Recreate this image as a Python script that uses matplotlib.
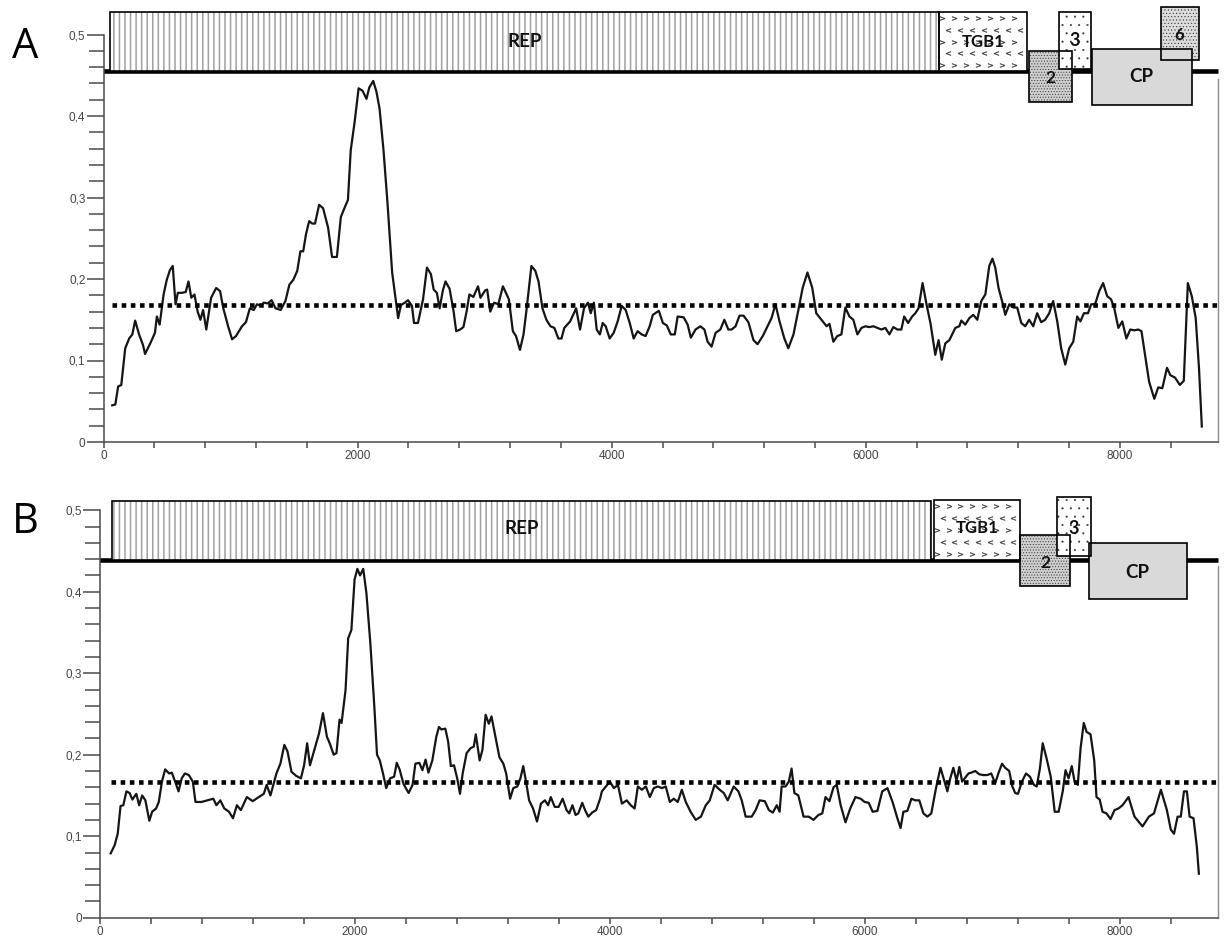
import numpy as np
import matplotlib
matplotlib.use("Agg")
import matplotlib.pyplot as plt
from matplotlib.patches import Rectangle
from matplotlib.ticker import FixedLocator, FuncFormatter

# ---------------- data ----------------
a_pos = [68, 93, 115, 140, 171, 202, 227, 249, 280, 311,
         327, 374, 405, 420, 442, 473, 498, 523, 545, 567,
         585, 616, 647, 669, 691, 716, 741, 763, 784, 809,
         847, 887, 918, 943, 981, 1012, 1043, 1090, 1121, 1152,
         1183, 1208, 1239, 1261, 1292, 1323, 1354, 1395, 1432, 1463,
         1494, 1525, 1550, 1572, 1594, 1619, 1643, 1665, 1697, 1728,
         1768, 1799, 1837, 1868, 1899, 1924, 1946, 1977, 2008, 2039,
         2070, 2092, 2123, 2148, 2173, 2204, 2235, 2272, 2319, 2341,
         2372, 2397, 2428, 2444, 2475, 2515, 2546, 2577, 2599, 2624,
         2646, 2671, 2692, 2724, 2755, 2776, 2807, 2833, 2858, 2880,
         2911, 2948, 2967, 3004, 3020, 3044, 3075, 3107, 3144, 3191,
         3222, 3247, 3278, 3306, 3331, 3368, 3399, 3424, 3455, 3486,
         3518, 3549, 3580, 3605, 3627, 3673, 3720, 3751, 3782, 3813,
         3835, 3860, 3882, 3907, 3929,
         3953, 3984, 4016, 4047, 4079, 4110, 4142, 4173, 4204, 4236,
         4267, 4299, 4324, 4371, 4403, 4434, 4465, 4497, 4519, 4566,
         4598, 4623, 4660, 4698, 4730, 4755, 4786, 4818, 4855, 4887,
         4918, 4944, 4975, 5006, 5038, 5076, 5116, 5148, 5189, 5227,
         5258, 5289, 5321, 5359, 5390, 5431, 5472, 5503, 5541, 5579,
         5610, 5651, 5692, 5714, 5745, 5776, 5808, 5839, 5871, 5902,
         5934, 5966, 5997, 6028, 6060, 6091, 6123, 6154, 6186, 6217,
         6249, 6280, 6302, 6333, 6365, 6390, 6415, 6447, 6478, 6510,
         6547, 6573, 6598, 6626, 6658, 6705, 6736, 6752, 6783, 6815,
         6846, 6878, 6909, 6941, 6972, 6997, 7019, 7045, 7076, 7098,
         7130, 7161, 7192, 7224, 7255, 7286, 7318, 7349, 7381, 7412,
         7444, 7475, 7507, 7538, 7570, 7601, 7633, 7664, 7689, 7717,
         7749, 7774, 7805, 7837, 7868, 7900, 7931, 7956, 7988, 8019,
         8051, 8082, 8114, 8145, 8170, 8198, 8230, 8271, 8302, 8334,
         8371, 8397, 8434, 8472, 8503, 8535, 8566, 8597, 8623, 8645]
a_val = [0.045, 0.046, 0.068, 0.070, 0.115, 0.127, 0.132, 0.149, 0.132, 0.119,
         0.108, 0.123, 0.134, 0.154, 0.144, 0.181, 0.199, 0.211, 0.216, 0.169,
         0.183, 0.183, 0.184, 0.197, 0.177, 0.181, 0.160, 0.150, 0.162, 0.138,
         0.177, 0.189, 0.185, 0.164, 0.142, 0.126, 0.130, 0.142, 0.147, 0.164,
         0.162, 0.169, 0.167, 0.171, 0.170, 0.174, 0.164, 0.162, 0.173, 0.193,
         0.199, 0.210, 0.234, 0.234, 0.255, 0.271, 0.268, 0.268, 0.291, 0.287,
         0.263, 0.227, 0.227, 0.276, 0.288, 0.297, 0.358, 0.393, 0.434, 0.431,
         0.421, 0.435, 0.443, 0.430, 0.409, 0.358, 0.294, 0.208, 0.152, 0.168,
         0.171, 0.174, 0.167, 0.146, 0.146, 0.175, 0.214, 0.206, 0.187, 0.183,
         0.164, 0.186, 0.197, 0.188, 0.161, 0.136, 0.138, 0.141, 0.160, 0.181,
         0.178, 0.191, 0.177, 0.186, 0.187, 0.160, 0.171, 0.169, 0.191, 0.175,
         0.136, 0.130, 0.113, 0.132, 0.164, 0.216, 0.210, 0.197, 0.164, 0.150,
         0.142, 0.140, 0.127, 0.127, 0.140, 0.148, 0.164, 0.138, 0.164, 0.171,
         0.158, 0.171, 0.138, 0.132, 0.146,
         0.142, 0.127, 0.134, 0.148, 0.167, 0.162, 0.146, 0.127, 0.136, 0.132,
         0.130, 0.142, 0.156, 0.161, 0.146, 0.143, 0.132, 0.132, 0.154, 0.153,
         0.144, 0.128, 0.138, 0.142, 0.138, 0.123, 0.117, 0.134, 0.138, 0.150,
         0.138, 0.138, 0.142, 0.155, 0.155, 0.147, 0.125, 0.120, 0.130, 0.142,
         0.152, 0.169, 0.148, 0.127, 0.115, 0.132, 0.164, 0.189, 0.208, 0.189,
         0.158, 0.150, 0.142, 0.145, 0.123, 0.130, 0.132, 0.165, 0.154, 0.150,
         0.132, 0.140, 0.142, 0.141, 0.142, 0.140, 0.138, 0.140, 0.132, 0.141,
         0.138, 0.138, 0.154, 0.146, 0.154, 0.158, 0.164, 0.195, 0.169, 0.145,
         0.107, 0.125, 0.101, 0.121, 0.125, 0.140, 0.142, 0.149, 0.144, 0.152,
         0.156, 0.150, 0.173, 0.181, 0.216, 0.225, 0.214, 0.189, 0.171, 0.156,
         0.169, 0.165, 0.165, 0.146, 0.142, 0.150, 0.142, 0.158, 0.147, 0.150,
         0.158, 0.173, 0.148, 0.115, 0.095, 0.115, 0.123, 0.154, 0.148, 0.158,
         0.158, 0.169, 0.169, 0.185, 0.195, 0.179, 0.175, 0.164, 0.140, 0.148,
         0.127, 0.138, 0.137, 0.138, 0.136, 0.107, 0.074, 0.053, 0.067, 0.066,
         0.091, 0.082, 0.079, 0.070, 0.075, 0.195, 0.179, 0.152, 0.090, 0.019]

b_pos = [84, 115, 139, 161, 183, 207, 232, 254, 285, 307,
         331, 356, 387, 409, 440, 461, 486, 511, 542, 563,
         594, 616, 641, 666, 697, 728, 749, 796, 842, 889,
         913, 944, 975, 1012, 1043, 1074, 1105, 1152, 1198, 1245,
         1285, 1307, 1337, 1384, 1415, 1446, 1471, 1502, 1539, 1576,
         1601, 1625, 1647, 1678, 1718, 1749, 1780, 1802, 1833, 1855,
         1879, 1895, 1926, 1947, 1972, 1997, 2019, 2040, 2065, 2090,
         2121, 2152, 2173, 2195, 2220, 2245, 2276, 2307, 2328, 2350,
         2381, 2421, 2452, 2474, 2505, 2529, 2554, 2576, 2607, 2638,
         2659, 2678, 2709, 2731, 2752, 2777, 2802, 2824, 2845, 2876,
         2907, 2932, 2948, 2978, 3000, 3025, 3050, 3071, 3102, 3133,
         3164, 3186, 3217, 3242, 3273, 3298, 3320, 3342, 3366, 3397,
         3428, 3459, 3490, 3515, 3536, 3567, 3598, 3629, 3660, 3681,
         3706, 3731, 3752, 3783, 3805, 3830, 3861, 3892, 3923,
         3937, 3969, 4000, 4031, 4063, 4094, 4132, 4163, 4194, 4219,
         4250, 4282, 4313, 4344, 4376, 4407, 4438, 4470, 4501, 4532,
         4564, 4595, 4633, 4673, 4714, 4752, 4783, 4821, 4861, 4893,
         4924, 4971, 5008, 5034, 5065, 5112, 5143, 5174, 5215, 5247,
         5278, 5309, 5331, 5347, 5378, 5403, 5425, 5447, 5478, 5519,
         5560, 5597, 5635, 5666, 5691, 5722, 5754, 5779, 5810, 5848,
         5885, 5926, 5967, 5998, 6030, 6061, 6098, 6136, 6177, 6217,
         6255, 6280, 6302, 6333, 6365, 6396, 6427, 6459, 6490, 6521,
         6553, 6569, 6593, 6625, 6647, 6668, 6694, 6719, 6741, 6763,
         6788, 6813, 6835, 6866, 6897, 6929, 6960, 6991, 7022, 7047,
         7076, 7100, 7132, 7157, 7179, 7201, 7232, 7264, 7295, 7326,
         7348, 7373, 7395, 7426, 7458, 7489, 7520, 7552, 7574, 7598,
         7623, 7646, 7670, 7692, 7717, 7739, 7770, 7799, 7817, 7842,
         7864, 7895, 7927, 7958, 7989, 8021, 8068, 8115, 8178, 8228,
         8268, 8322, 8369, 8400, 8425, 8453, 8478, 8503, 8526, 8547,
         8578, 8604, 8620]
b_val = [0.079, 0.089, 0.103, 0.137, 0.138, 0.155, 0.153, 0.145, 0.152, 0.138,
         0.150, 0.144, 0.119, 0.130, 0.134, 0.142, 0.167, 0.182, 0.177, 0.178,
         0.165, 0.155, 0.171, 0.177, 0.175, 0.167, 0.142, 0.142, 0.144, 0.146,
         0.138, 0.144, 0.134, 0.130, 0.122, 0.138, 0.132, 0.148, 0.143, 0.148,
         0.152, 0.163, 0.150, 0.177, 0.189, 0.212, 0.204, 0.179, 0.174, 0.171,
         0.187, 0.214, 0.187, 0.204, 0.226, 0.251, 0.222, 0.214, 0.200, 0.202,
         0.243, 0.239, 0.279, 0.343, 0.353, 0.415, 0.428, 0.420, 0.428, 0.398,
         0.336, 0.259, 0.200, 0.193, 0.177, 0.159, 0.171, 0.173, 0.190, 0.182,
         0.164, 0.153, 0.163, 0.189, 0.190, 0.181, 0.194, 0.178, 0.193, 0.222,
         0.234, 0.231, 0.232, 0.216, 0.186, 0.187, 0.171, 0.152, 0.177, 0.202,
         0.208, 0.210, 0.225, 0.193, 0.206, 0.249, 0.238, 0.247, 0.222, 0.197,
         0.189, 0.177, 0.146, 0.159, 0.161, 0.171, 0.186, 0.167, 0.144, 0.134,
         0.118, 0.140, 0.144, 0.138, 0.148, 0.136, 0.136, 0.146, 0.132, 0.128,
         0.138, 0.126, 0.128, 0.141, 0.132, 0.124, 0.129, 0.132, 0.146,
         0.155, 0.161, 0.167, 0.159, 0.163, 0.140, 0.144, 0.138, 0.134, 0.161,
         0.157, 0.161, 0.148, 0.159, 0.161, 0.159, 0.161, 0.142, 0.146, 0.142,
         0.157, 0.142, 0.130, 0.120, 0.124, 0.138, 0.144, 0.163, 0.157, 0.153,
         0.144, 0.161, 0.155, 0.144, 0.124, 0.124, 0.132, 0.144, 0.143, 0.132,
         0.129, 0.138, 0.130, 0.161, 0.161, 0.167, 0.183, 0.153, 0.150, 0.124,
         0.124, 0.120, 0.126, 0.128, 0.148, 0.143, 0.160, 0.163, 0.138, 0.117,
         0.134, 0.148, 0.146, 0.142, 0.141, 0.130, 0.131, 0.155, 0.159, 0.142,
         0.122, 0.110, 0.130, 0.131, 0.146, 0.144, 0.144, 0.128, 0.124, 0.128,
         0.155, 0.167, 0.184, 0.167, 0.155, 0.170, 0.184, 0.168, 0.185, 0.167,
         0.172, 0.177, 0.178, 0.180, 0.176, 0.175, 0.175, 0.177, 0.165, 0.177,
         0.189, 0.184, 0.180, 0.161, 0.153, 0.152, 0.167, 0.177, 0.173, 0.163,
         0.161, 0.183, 0.214, 0.195, 0.173, 0.130, 0.130, 0.155, 0.181, 0.171,
         0.186, 0.166, 0.163, 0.208, 0.239, 0.228, 0.225, 0.193, 0.148, 0.145,
         0.130, 0.128, 0.121, 0.132, 0.134, 0.138, 0.148, 0.124, 0.112, 0.124,
         0.128, 0.157, 0.132, 0.108, 0.103, 0.124, 0.124, 0.155, 0.155, 0.124,
         0.122, 0.087, 0.054]

a_threshold = 0.168
b_threshold = 0.167

genome_length = 8770
x_tick_labels = ["0", "2000", "4000", "6000", "8000"]
y_tick_labels = ["0", "0,1", "0,2", "0,3", "0,4", "0,5"]

# genome maps (nt coordinates)
a_gene_names = ["REP", "TGB1", "2", "3", "6", "CP"]
a_gene_start = [51, 6574, 7282, 7518, 8320, 7778]
a_gene_end = [6574, 7266, 7620, 7770, 8619, 8565]
b_gene_names = ["REP", "TGB1", "2", "3", "CP"]
b_gene_start = [93, 6541, 7216, 7506, 7757]
b_gene_end = [6515, 7216, 7608, 7770, 8523]

# ---------------- layout / style ----------------
W, H = 1226, 939
YTOP = 0.54
a_levels = {"REP": (0.4556, 0.527), "TGB1": (0.4556, 0.527), "2": (0.417, 0.480),
            "3": (0.458, 0.527), "CP": (0.4135, 0.482), "6": (0.469, 0.534)}
a_text_y = {"REP": 0.491, "TGB1": 0.491, "2": 0.447, "3": 0.4925, "CP": 0.448, "6": 0.500}
b_levels = {"REP": (0.4387, 0.5115), "TGB1": (0.4387, 0.5125), "2": (0.407, 0.4696),
            "3": (0.4438, 0.5166), "CP": (0.391, 0.4597)}
b_text_y = {"REP": 0.4775, "TGB1": 0.478, "2": 0.435, "3": 0.478, "CP": 0.423}

gene_style = {
    "REP": dict(face="white", hatch="|||", hcolor="#a0a0a0", hlw=1.1, fs=13.5),
    "TGB1": dict(face="white", hatch=None, hcolor=None, hlw=1.0, fs=12),
    "2": dict(face="#d0d0d0", hatch="......", hcolor="#3a3a3a", hlw=0.45, fs=12.5),
    "3": dict(face="white", hatch="..", hcolor="#333333", hlw=0.25, fs=13),
    "CP": dict(face="#d9d9d9", hatch=None, hcolor=None, hlw=1.0, fs=13.5),
    "6": dict(face="#dcdcdc", hatch=".....", hcolor="#333333", hlw=0.4, fs=12),
}

plt.rcParams["hatch.linewidth"] = 1.0
TICK_FONT = "Liberation Sans"
LABEL_FONT = ["Lato", "DejaVu Sans"]

fig = plt.figure(figsize=(W / 100, H / 100), dpi=100)
fig.patch.set_facecolor("white")
axA = fig.add_axes([103.5 / W, 1 - 442.0 / H, 1114.2 / W, 440.1 / H])
axB = fig.add_axes([100.0 / W, 1 - 917.7 / H, 1118.0 / W, 440.1 / H])


def style_axes(ax, right_top):
    ax.set_xlim(0, genome_length)
    ax.set_ylim(0, YTOP)
    ax.patch.set_alpha(0)
    ax.spines["top"].set_visible(False)
    ax.spines["left"].set_bounds(0, 0.5)
    ax.spines["right"].set_bounds(0, right_top)
    for s in ("left", "bottom"):
        ax.spines[s].set_color("#4a4a4a")
        ax.spines[s].set_linewidth(1.1)
    ax.spines["right"].set_color("#8a8a8a")
    ax.spines["right"].set_linewidth(1.0)
    ax.yaxis.set_major_locator(FixedLocator(np.arange(0, 0.501, 0.1)))
    ax.yaxis.set_minor_locator(FixedLocator(np.arange(0, 0.501, 0.02)))
    ax.yaxis.set_major_formatter(FuncFormatter(lambda v, p: y_tick_labels[int(round(v * 10))]))
    ax.xaxis.set_major_locator(FixedLocator(np.arange(0, 8001, 2000)))
    ax.xaxis.set_minor_locator(FixedLocator(np.arange(0, 8401, 400)))
    ax.xaxis.set_major_formatter(FuncFormatter(lambda v, p: x_tick_labels[int(round(v / 2000))]))
    ax.tick_params(axis="y", which="major", direction="out", length=12, width=1.1,
                   color="#4a4a4a", labelsize=8.5, labelcolor="#444444", pad=1)
    ax.tick_params(axis="y", which="minor", direction="out", length=11, width=1.1,
                   color="#4a4a4a")
    ax.tick_params(axis="x", which="both", direction="out", length=4, width=1.1,
                   color="#4a4a4a", labelsize=8.5, labelcolor="#444444", pad=2)
    for lab in ax.get_xticklabels() + ax.get_yticklabels():
        lab.set_fontfamily(TICK_FONT)


def draw_map(ax, names, starts, ends, levels, text_y, line_y):
    ax.plot([0, genome_length], [line_y, line_y], color="black", lw=3.3,
            solid_capstyle="butt", clip_on=False, zorder=3)
    for name, s, e in zip(names, starts, ends):
        st = gene_style[name]
        y0, y1 = levels[name]
        if st["hatch"]:
            with plt.rc_context({"hatch.linewidth": st["hlw"]}):
                hp = Rectangle((s, y0), e - s, y1 - y0, facecolor=st["face"],
                               edgecolor=st["hcolor"], hatch=st["hatch"], lw=0,
                               clip_on=False, zorder=4)
            if hasattr(hp, "set_hatch_linewidth"):
                hp.set_hatch_linewidth(st["hlw"])
            ax.add_patch(hp)
        else:
            ax.add_patch(Rectangle((s, y0), e - s, y1 - y0, facecolor=st["face"],
                                   lw=0, clip_on=False, zorder=4))
        if name == "TGB1":
            nx, ny = 7, 5
            w = e - s
            h = y1 - y0
            for j in range(ny):
                yy = y0 + (j + 0.5) / ny * h
                shift = 0.5 if j % 2 else 0.0
                xs = s + (np.arange(nx) + 0.25 + shift) / (nx + 0.3) * w
                ax.plot(xs, np.full(nx, yy), ls="none",
                        marker="$<$" if j % 2 else "$>$", ms=3.6, mew=0.2,
                        color="#333333", clip_on=False, zorder=4.5)
        ax.add_patch(Rectangle((s, y0), e - s, y1 - y0, fill=False,
                               edgecolor="black", lw=1.2, clip_on=False, zorder=5))
        ax.text((s + e) / 2, text_y[name], name, ha="center", va="center",
                fontsize=st["fs"], fontweight="bold", family=LABEL_FONT,
                color="#111111", zorder=6, clip_on=False)


def draw_panel(ax, pos, val, thr, right_top):
    style_axes(ax, right_top)
    ax.plot(pos, val, color="#151515", lw=1.6, zorder=2, solid_joinstyle="round")
    ax.plot([pos[0], genome_length], [thr, thr], color="black", lw=3.3,
            ls=(0, (1, 1)), dash_capstyle="butt", zorder=2.5, clip_on=False)


draw_panel(axA, a_pos, a_val, a_threshold, 0.446)
draw_map(axA, a_gene_names, a_gene_start, a_gene_end, a_levels, a_text_y, 0.4556)
draw_panel(axB, b_pos, b_val, b_threshold, 0.4315)
draw_map(axB, b_gene_names, b_gene_start, b_gene_end, b_levels, b_text_y, 0.4387)

fig.text(25 / W, 1 - 47 / H, "A", fontsize=30, ha="center", va="center",
         family=["Open Sans", "DejaVu Sans"], color="black")
fig.text(25 / W, 1 - 522 / H, "B", fontsize=30, ha="center", va="center",
         family=["Open Sans", "DejaVu Sans"], color="black")

fig.savefig("out.png", dpi=100, facecolor="white")
